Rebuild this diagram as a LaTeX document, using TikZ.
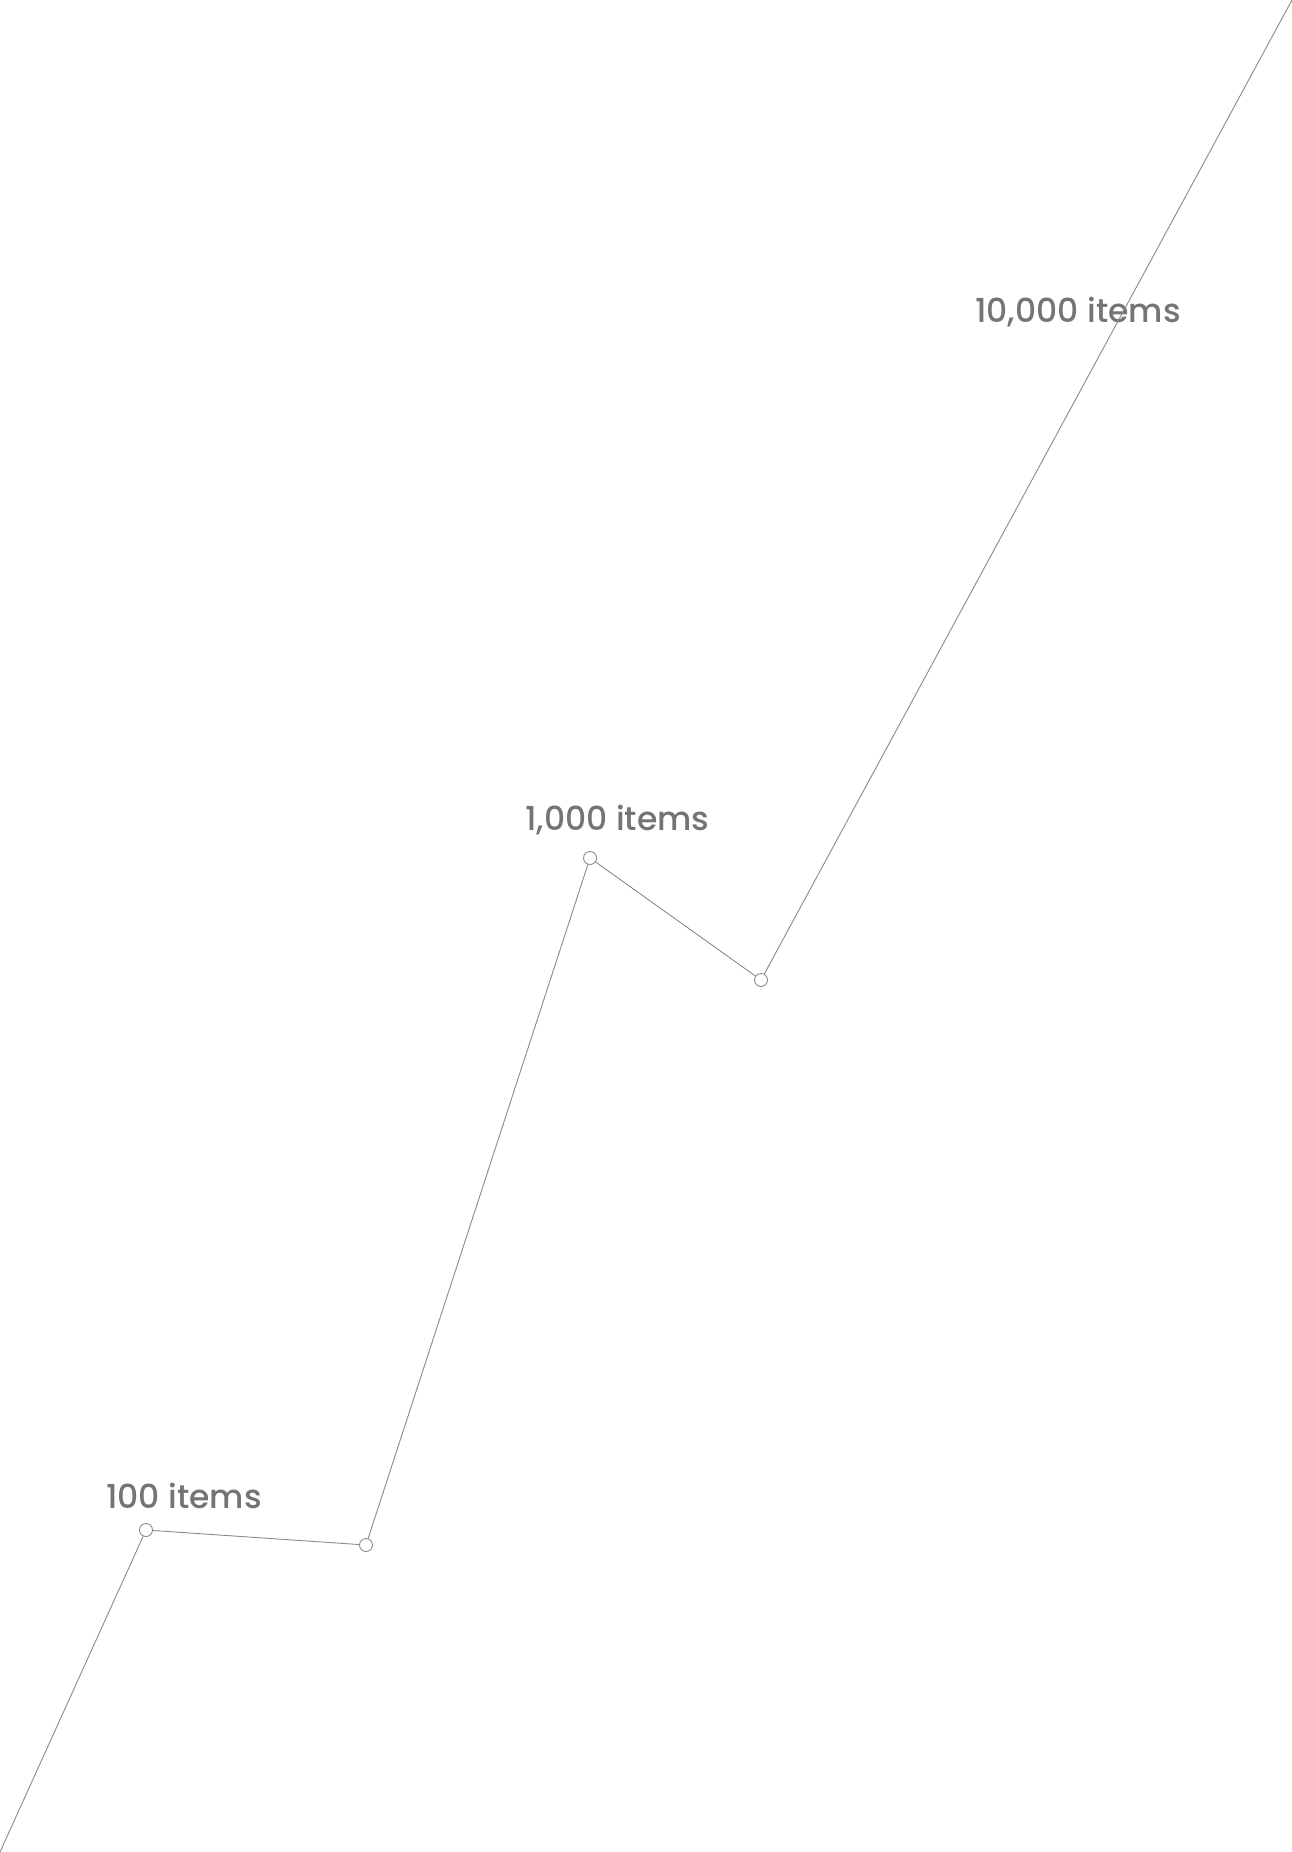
\documentclass[tikz,border=0pt]{standalone}
\usepackage{fontspec}
\newfontfamily\labfont{Poppins Medium}
\definecolor{linegray}{HTML}{8A8A8A}
\definecolor{textgray}{HTML}{747474}
\begin{document}
\begin{tikzpicture}[x=1pt,y=-1pt,
  dot/.style={circle,draw=linegray,fill=white,line width=0.9pt,minimum size=13pt,inner sep=0pt},
  lab/.style={anchor=base west,inner sep=0pt,text=textgray,font=\labfont\fontsize{33}{35}\selectfont},
  conn/.style={draw=linegray,line width=0.9pt}]
\useasboundingbox (0,0) rectangle (1292,1852);
\node[lab] (l1) at (106,1508) {100 items};
\node[lab] (l2) at (525,830) {1,000 items};
\node[lab] (l3) at (975,322) {10,000 items};
\coordinate (s) at (0,1852);
\coordinate (e) at (1292,0);
\node[dot] (p1) at (146,1530) {};
\node[dot] (p2) at (366,1545) {};
\node[dot] (p3) at (590,858) {};
\node[dot] (p4) at (761,980) {};
\draw[conn] (s) -- (p1) -- (p2) -- (p3) -- (p4) -- (e);
\end{tikzpicture}
\end{document}
